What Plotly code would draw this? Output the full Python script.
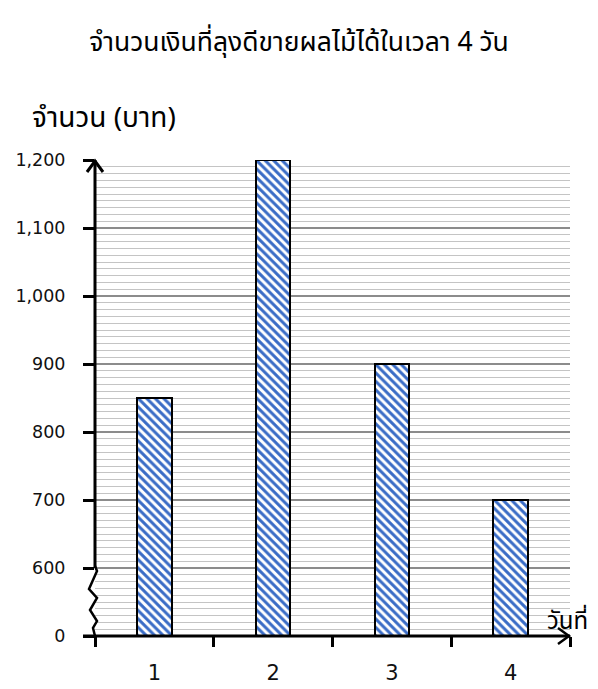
import plotly.graph_objects as go

# ---- data ----
days = [1, 2, 3, 4]
day_labels = ["1", "2", "3", "4"]
amounts = [850, 1200, 900, 700]
ytick_vals = [500, 600, 700, 800, 900, 1000, 1100, 1200]   # 500 is the broken-axis stand-in for 0
ytick_text = ["0", "600", "700", "800", "900", "1,000", "1,100", "1,200"]
title_text = "จำนวนเงินที่ลุงดีขายผลไม้ได้ในเวลา 4 วัน"
ylab_text = "จำนวน (บาท)"
xlab_text = "วันที่"
BREAK_BASE = 500

OFF = 8                      # page body margin
W, H = 598 - OFF, 689 - OFF
# plot area in screen pixels
SX0, SX1, SY0, SY1 = 95, 570, 160, 636
L, R, T, B = SX0 - OFF, W - (SX1 - OFF), SY0 - OFF, H - (SY1 - OFF)
PW, PH = W - L - R, H - T - B
FONT = "Tahoma, 'Noto Sans Thai', 'DejaVu Sans', sans-serif"
NUMFONT = "'DejaVu Sans', sans-serif"

def px(xs):
    return (xs - SX0) / PW

def py(ys):
    return (SY1 - ys) / PH

fig = go.Figure()
fig.add_trace(go.Bar(
    x=days, y=[a - BREAK_BASE for a in amounts], base=BREAK_BASE,
    width=0.29,
    marker=dict(color="white",
                line=dict(color="black", width=2),
                pattern=dict(shape="\\", fgcolor="#3a6cc6", bgcolor="white",
                             size=6, solidity=0.5, fgopacity=1)),
    hoverinfo="skip",
))

shapes = []
shapes.append(dict(type="line", xref="paper", yref="y", x0=0, x1=0, y0=600, y1=1200,
                   line=dict(color="black", width=3), layer="above"))
zz = [(95, 566), (97, 571), (89, 589), (97, 598), (90, 610), (97, 621), (93, 628), (95, 636)]
path = "M " + " L ".join(f"{px(a)},{py(b)}" for a, b in zz)
shapes.append(dict(type="path", xref="paper", yref="paper", path=path,
                   line=dict(color="black", width=2.5), layer="above"))
shapes.append(dict(type="line", xref="paper", yref="paper", x0=px(83), x1=px(570), y0=0, y1=0,
                   line=dict(color="black", width=3), layer="above"))
ya = f"M {px(87)},{py(172)} L {px(95)},{py(161)} L {px(103)},{py(172)}"
shapes.append(dict(type="path", xref="paper", yref="paper", path=ya,
                   line=dict(color="black", width=3), layer="above"))
xa = f"M {px(558)},{py(628)} L {px(569)},{py(636)} L {px(558)},{py(644)}"
shapes.append(dict(type="path", xref="paper", yref="paper", path=xa,
                   line=dict(color="black", width=2.5), layer="above"))

fig.update_layout(
    width=W, height=H,
    margin=dict(l=L, r=R, t=T, b=B, autoexpand=False),
    paper_bgcolor="white", plot_bgcolor="white",
    showlegend=False,
    shapes=shapes,
    font=dict(family=FONT, color="#111111", size=17),
    title=dict(text=title_text, x=(299 - OFF) / W, xref="container", xanchor="center",
               y=1 - (42 - OFF) / H, yref="container", yanchor="middle",
               font=dict(family=FONT, size=26.5, color="black")),
    annotations=[
        dict(text=ylab_text, xref="paper", yref="paper", x=px(30), y=py(118),
             xanchor="left", yanchor="middle", showarrow=False,
             font=dict(family=FONT, size=28, color="black")),
        dict(text=xlab_text, xref="paper", yref="paper", x=px(545), y=py(622),
             xanchor="left", yanchor="middle", showarrow=False,
             font=dict(family=FONT, size=24, color="black")),
    ],
    bargap=0,
)
fig.update_xaxes(
    range=[0.5, 4.5], tickvals=days, ticktext=day_labels, ticks="", showgrid=False,
    zeroline=False, showline=False, automargin=False,
    tickfont=dict(family=NUMFONT, size=21, color="#111111"),
    ticklabelstandoff=22,
    minor=dict(tickvals=[0.5, 1.5, 2.5, 3.5, 4.5], ticks="outside", ticklen=10,
               tickwidth=3, tickcolor="black", showgrid=False),
)
fig.update_yaxes(
    range=[BREAK_BASE, 1200], tickvals=ytick_vals, ticktext=ytick_text,
    ticks="outside", ticklen=11, tickwidth=3, tickcolor="black",
    showgrid=True, gridcolor="#8c8c8c", gridwidth=1.5,
    zeroline=False, showline=False, automargin=False,
    tickfont=dict(family=NUMFONT, size=17.5, color="#111111"),
    ticklabelstandoff=14,
    minor=dict(dtick=10, showgrid=True, gridcolor="#c4c4c4", gridwidth=1, ticks=""),
)

fig.write_html("out.html")
